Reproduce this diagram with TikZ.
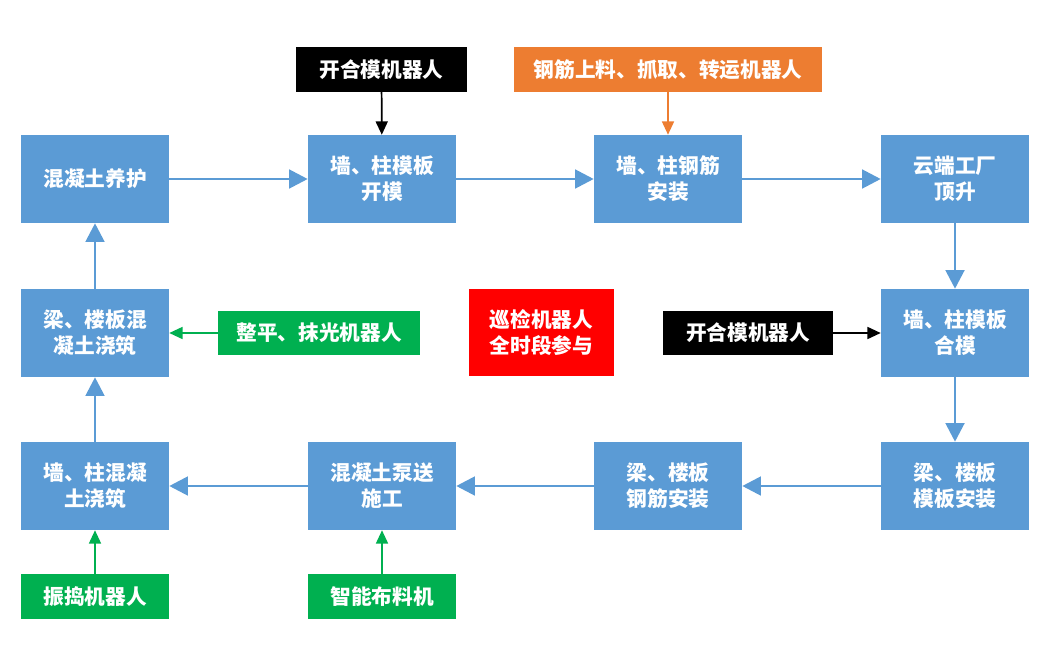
\documentclass[tikz,border=0pt]{standalone}
\usepackage{fontspec}
\setmainfont{Noto Sans CJK SC}
\usetikzlibrary{arrows.meta}
\definecolor{stepblue}{HTML}{5B9BD5}
\definecolor{robotgreen}{HTML}{00B050}
\definecolor{robotorange}{HTML}{ED7D31}
\tikzset{
  stepbox/.style={fill=stepblue, text=white, minimum width=111pt, minimum height=66pt, align=center, inner sep=0pt},
  robotbox/.style={text=white, minimum height=33.5pt, align=center, inner sep=0pt},
  flow/.style={draw=stepblue, line width=2.2pt, -{Triangle[length=14pt,width=14pt]}},
  helper/.style={line width=1.3pt, -{Triangle[length=10pt,width=9pt]}}
}
\begin{document}
\begin{tikzpicture}[x=0.75pt, y=-0.75pt, font=\fontsize{15.5}{19.5}\selectfont\bfseries]
    \useasboundingbox (0,0) rectangle (1057,650);
    % process steps
    \node[stepbox] (yanghu) at (95,179) {混凝土养护};
    \node[stepbox] (kaimo) at (382,179) {墙、柱模板\\开模};
    \node[stepbox] (gangjin) at (668,179) {墙、柱钢筋\\安装};
    \node[stepbox] (dingsheng) at (955,179) {云端工厂\\顶升};
    \node[stepbox] (liangjiao) at (95,333) {梁、楼板混\\凝土浇筑};
    \node[stepbox] (hemo) at (955,333) {墙、柱模板\\合模};
    \node[stepbox] (qiangjiao) at (95,486) {墙、柱混凝\\土浇筑};
    \node[stepbox] (bengsong) at (382,486) {混凝土泵送\\施工};
    \node[stepbox] (lgangjin) at (668,486) {梁、楼板\\钢筋安装};
    \node[stepbox] (lmoban) at (955,486) {梁、楼板\\模板安装};
    % robots
    \node[robotbox, fill=black, minimum width=128pt] (kaihe1) at (381.5,69.5) {开合模机器人};
    \node[robotbox, fill=robotorange, minimum width=231pt] (shangliao) at (668,69.5) {钢筋上料、抓取、转运机器人};
    \node[robotbox, fill=robotgreen, minimum width=151.5pt] (zhengping) at (319,333) {整平、抹光机器人};
    \node[robotbox, fill=red, minimum width=109pt, minimum height=65pt] (xunjian) at (541.5,332.5) {巡检机器人\\全时段参与};
    \node[robotbox, fill=black, minimum width=127.5pt] (kaihe2) at (748,333) {开合模机器人};
    \node[robotbox, fill=robotgreen, minimum width=111pt] (zhendao) at (95,596.5) {振捣机器人};
    \node[robotbox, fill=robotgreen, minimum width=111pt] (buliao) at (382,596.5) {智能布料机};
    % flow
    \draw[flow] (yanghu) -- (kaimo);
    \draw[flow] (kaimo) -- (gangjin);
    \draw[flow] (gangjin) -- (dingsheng);
    \draw[flow] (dingsheng) -- (hemo);
    \draw[flow] (hemo) -- (lmoban);
    \draw[flow] (lmoban) -- (lgangjin);
    \draw[flow] (lgangjin) -- (bengsong);
    \draw[flow] (bengsong) -- (qiangjiao);
    \draw[flow] (qiangjiao) -- (liangjiao);
    \draw[flow] (liangjiao) -- (yanghu);
    % robot links
    \draw[helper, black] (kaihe1) -- (kaimo);
    \draw[helper, robotorange] (shangliao) -- (gangjin);
    \draw[helper, robotgreen] (zhengping) -- (liangjiao);
    \draw[helper, black] (kaihe2) -- (hemo);
    \draw[helper, robotgreen] (zhendao) -- (qiangjiao);
    \draw[helper, robotgreen] (buliao) -- (bengsong);
\end{tikzpicture}
\end{document}
